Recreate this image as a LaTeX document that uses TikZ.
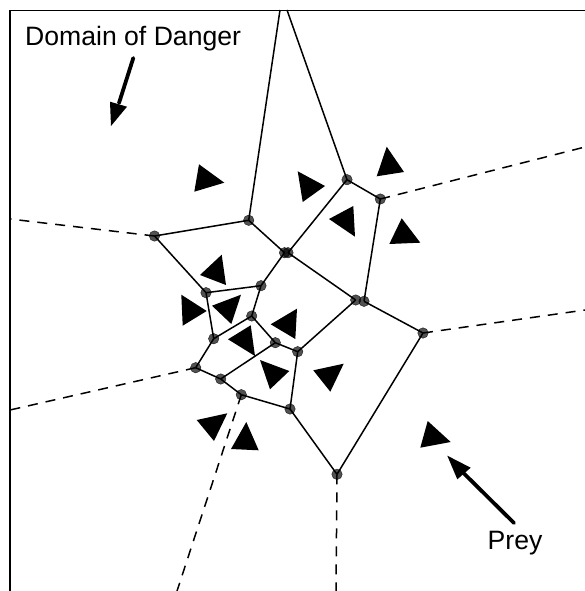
\documentclass[tikz,border=0pt]{standalone}
\usepackage{fontspec}
\setmainfont{Liberation Sans}
\tikzset{
  vtx/.style={circle,draw=black,draw opacity=.8,fill=black,fill opacity=.68,line width=0.4pt,inner sep=0pt,minimum size=10.5pt},
  edge/.style={line width=1.5pt,black},
  ray/.style={line width=1.5pt,black,dash pattern=on 10pt off 8pt},
  prey/.style={fill=black,draw=none},
  lab/.style={inner sep=0pt,anchor=base west,font=\fontsize{26.6}{30}\selectfont},
  pointer/.style={line width=3.8pt,line cap=round,black},
  head/.style={fill=black,draw=none}
}
\begin{document}
\begin{tikzpicture}[x=1pt,y=-1pt]
\useasboundingbox (0,0) rectangle (585,591);
\fill[white] (0,0) rectangle (585,591);
% Voronoi vertices
\foreach \n/\px/\py in {A/154.5/236,B/206/292.7,C/261/285.7,Da/284.5/252.7,Db/288/252.7,E/251.7/316,F/213.7/338.7,G/275.3/342.7,H/297.7/351.7,I/195.7/367.7,J/220.7/379,K/241.3/394.7,L/290/409,M/337/474.3,N/347/179.7,O/380.3/199,Pa/355.7/300,Pb/364/301.3,R/423/333,S/248.7/220.3}
  \coordinate (\n) at (\px,\py);
\coordinate (topS) at (280,10);
\coordinate (topN) at (287,10);
\coordinate (eA) at (10,219);
\coordinate (eI) at (10,410);
\coordinate (eK) at (177,591);
\coordinate (eM) at (336,591);
\coordinate (eO) at (585,147);
\coordinate (eR) at (585,310);
% frame
\draw[line width=1.7pt] (9.7,591) -- (9.7,10.5) -- (585,10.5);
% rays
\foreach \a/\b in {A/eA,I/eI,K/eK,M/eM,O/eO,R/eR} \draw[ray] (\a) -- (\b);
% edges
\foreach \a/\b in {S/topS,N/topN,S/A,A/B,B/C,B/F,C/Da,C/E,E/F,E/G,G/H,F/I,I/J,J/K,J/G,K/L,L/H,H/Pa,Db/Pa,Pb/R,O/Pb,N/Db,N/O,S/Da,L/M,M/R}
  \draw[edge] (\a) -- (\b);
% vertex dots
\foreach \n in {A,B,C,Da,Db,E,F,G,H,I,J,K,L,M,N,O,Pa,Pb,R,S}
  \node[vtx] (v\n) at (\n) {};
% prey
\foreach \p/\q/\r in {
 {221.7,254.7}/{200,275}/{226,285},
 {181.3,294.7}/{206.7,311}/{182.7,325.7},
 {241,294.7}/{212,305.7}/{231.3,324},
 {297,308.7}/{270.7,324.3}/{295.3,339},
 {250.7,325.3}/{228,339.3}/{255,356},
 {260,360}/{289.3,371}/{270,389.3},
 {343.7,363.7}/{313.3,370.3}/{330.3,391.7},
 {297.7,171.3}/{325,186}/{302.7,202},
 {386.7,146.7}/{404,172}/{376.7,176.3},
 {353.3,206}/{329,219}/{355,236.7},
 {401.7,218.3}/{420.3,242.7}/{389.3,244},
 {199,164.3}/{224.3,182.7}/{194.3,191.7},
 {227.3,413.3}/{196.7,420}/{214,441},
 {246.3,422}/{258.7,450.3}/{231,449},
 {427.7,421}/{450.7,442}/{420.3,447.7}}
  \fill[prey] (\p) -- (\q) -- (\r) -- cycle;
% labels
\node[lab] (dom) at (25,46) {Domain of Danger};
\node[lab] (pr) at (487.5,549) {Prey};
% pointers
\coordinate (d0) at (133.3,58);
\coordinate (d1) at (119,103);
\draw[pointer] (d0) -- (d1);
\fill[head] (111,126) -- (110,101.7) -- (127,106.7) -- cycle;
\coordinate (p0) at (514,523);
\coordinate (p1) at (464,473.5);
\draw[pointer] (p0) -- (p1);
\fill[head] (447.3,455.7) -- (470.7,467.7) -- (457.3,479.3) -- cycle;
\end{tikzpicture}
\end{document}
